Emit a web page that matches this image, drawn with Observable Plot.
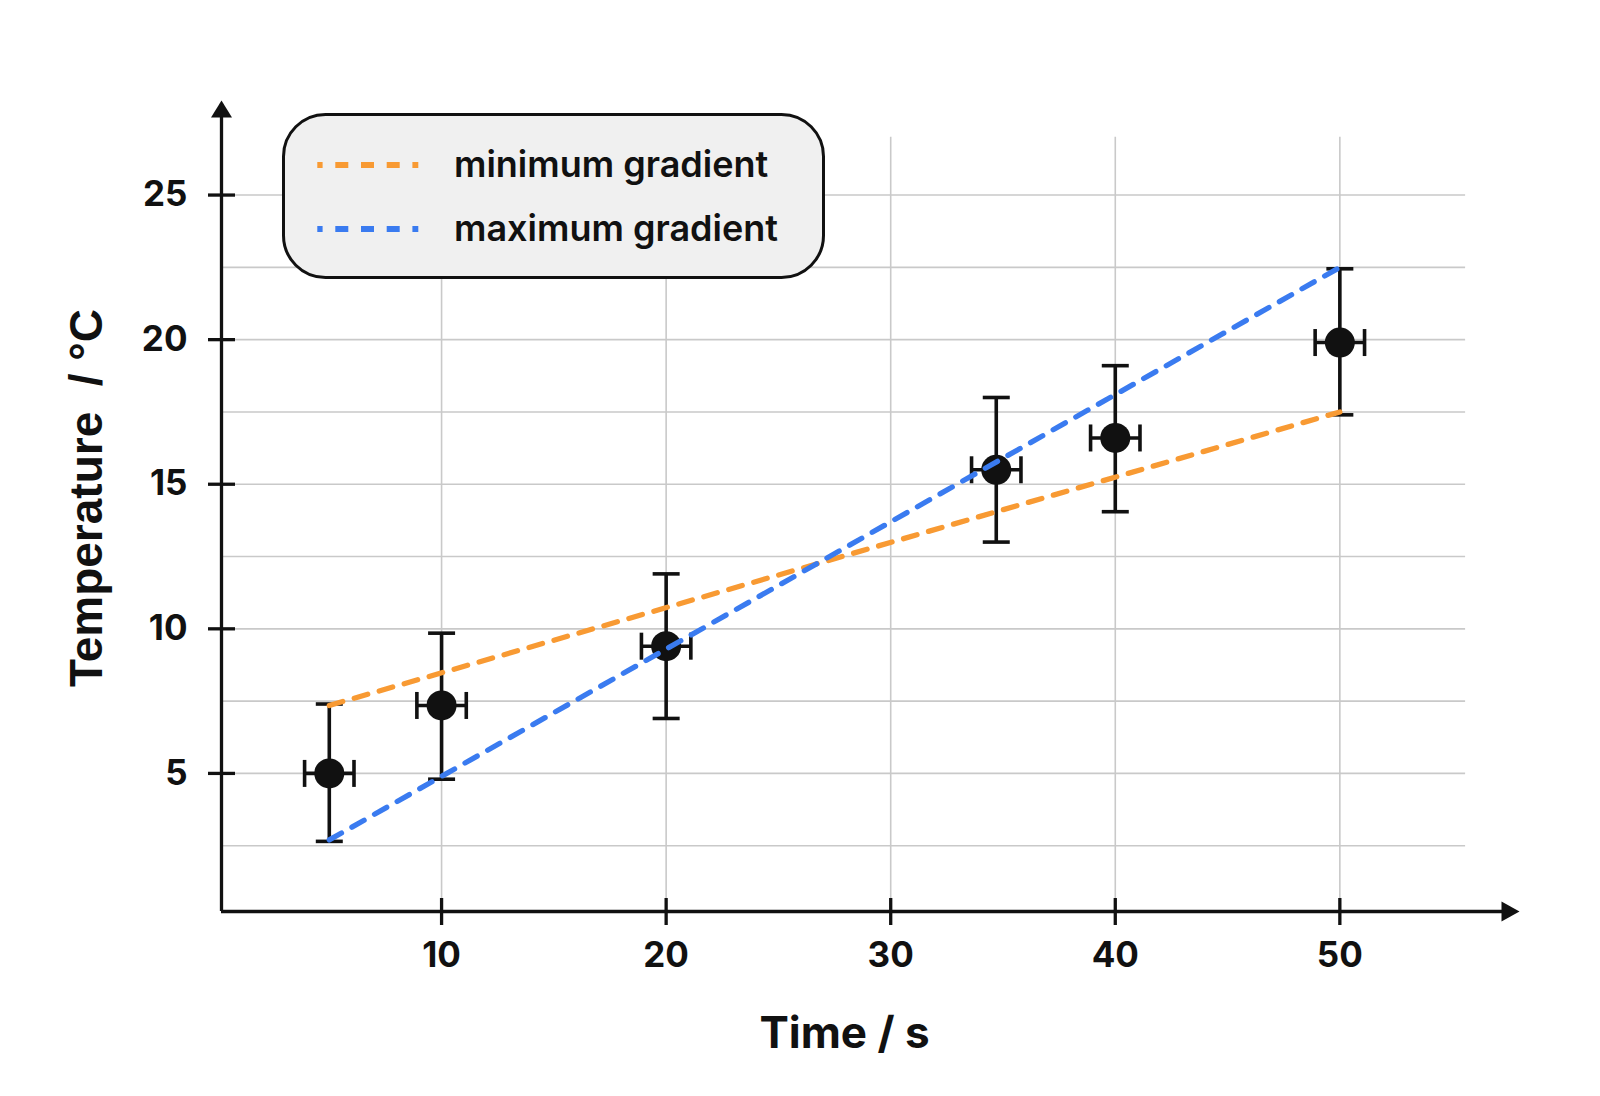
<!DOCTYPE html>
<html>
<head>
<meta charset="utf-8">
<script src="https://cdn.jsdelivr.net/npm/d3@7"></script>
<script src="https://cdn.jsdelivr.net/npm/@observablehq/plot@0.6"></script>
<style>
  html, body { margin: 0; padding: 0; background: #ffffff; }
  #wrap { position: relative; width: 1600px; height: 1096px; }
  #legend { position: absolute; left: 282px; top: 113px; }
</style>
</head>
<body>
<div id="wrap"></div>
<script>
// ---- data ----
const timeS    = [5, 10, 20, 34.7, 40, 50];
const tempC    = [5.0, 7.35, 9.4, 15.5, 16.6, 19.9];
const tempLow  = [2.65, 4.8, 6.9, 13.0, 14.05, 17.4];
const tempHigh = [7.4, 9.85, 11.9, 18.0, 19.1, 22.45];
const timeErr  = [1.1, 1.1, 1.1, 1.1, 1.1, 1.1];

const minGradTime = [5, 50];
const minGradTemp = [7.35, 17.5];
const maxGradTime = [5, 50];
const maxGradTemp = [2.7, 22.5];

const xTickValues = [10, 20, 30, 40, 50];
const yTickValues = [5, 10, 15, 20, 25];
const yGridValues = [2.5, 5, 7.5, 10, 12.5, 15, 17.5, 20, 22.5, 25];
const legendLabels = ["minimum gradient", "maximum gradient"];
const xLabel = "Time / s";
const yLabel = "Temperature  / °C";

// ---- layout / style ----
const xMin = 0.2, xMax = 58, yMin = 0.225, yMax = 28.27;
const gridXEnd = 55.6, gridYEnd = 27;
const orange = "#f89a33", blue = "#3a7bf0", ink = "#111111", gridColor = "#c9c9c9";
const tickFont = "Inter, 'Noto Sans', sans-serif";
const barW = 3.6;

const points = timeS.map((t, i) => ({
  t, v: tempC[i], lo: tempLow[i], hi: tempHigh[i],
  t1: t - timeErr[i], t2: t + timeErr[i]
}));
const minLine = minGradTime.map((t, i) => ({t, v: minGradTemp[i]}));
const maxLine = maxGradTime.map((t, i) => ({t, v: maxGradTemp[i]}));

// custom symbols (pixel-sized caps, ticks and arrow heads)
const hCap = {draw(ctx) { ctx.moveTo(-13.5, 0); ctx.lineTo(13.5, 0); }};
const vCap = {draw(ctx) { ctx.moveTo(0, -13.5); ctx.lineTo(0, 13.5); }};
const arrowRight = {draw(ctx) { ctx.moveTo(0, 0); ctx.lineTo(-18, -10); ctx.lineTo(-18, 10); ctx.closePath(); }};
const arrowUp = {draw(ctx) { ctx.moveTo(0, 0); ctx.lineTo(-10.5, 17); ctx.lineTo(10.5, 17); ctx.closePath(); }};

const chart = Plot.plot({
  width: 1600,
  height: 1096,
  marginLeft: 221,
  marginRight: 81,
  marginTop: 100,
  marginBottom: 185,
  x: {domain: [xMin, xMax], axis: null},
  y: {domain: [yMin, yMax], axis: null},
  style: {background: "#ffffff", overflow: "visible"},
  marks: [
    // grid
    Plot.ruleY(yGridValues, {y: d => d, x1: xMin, x2: gridXEnd, stroke: gridColor, strokeWidth: 1.6}),
    Plot.ruleX(xTickValues, {x: d => d, y1: yMin, y2: gridYEnd, stroke: gridColor, strokeWidth: 1.6}),
    // axes
    Plot.ruleY([yMin], {x1: xMin, x2: xMax - 0.3, stroke: ink, strokeWidth: 3.3}),
    Plot.ruleX([xMin], {y1: yMin, y2: yMax - 0.3, stroke: ink, strokeWidth: 3.3}),
    Plot.dot([0], {x: xMax, y: yMin, symbol: arrowRight, fill: ink, stroke: "none"}),
    Plot.dot([0], {x: xMin, y: yMax, symbol: arrowUp, fill: ink, stroke: "none"}),
    Plot.dot(xTickValues, {x: d => d, y: yMin, symbol: vCap, fill: "none", stroke: ink, strokeWidth: 3.3}),
    Plot.dot(yTickValues, {x: xMin, y: d => d, symbol: hCap, fill: "none", stroke: ink, strokeWidth: 3.3}),
    // tick labels
    Plot.text(xTickValues, {x: d => d, y: yMin, text: d => String(d), dy: 44, textAnchor: "middle", lineAnchor: "middle",
      fontFamily: tickFont, fontSize: 35, fontWeight: 700, fill: ink}),
    Plot.text(yTickValues, {x: xMin, y: d => d, text: d => String(d), dx: -34, textAnchor: "end", lineAnchor: "middle",
      fontFamily: tickFont, fontSize: 35, fontWeight: 700, fill: ink}),
    // axis labels
    Plot.text([xLabel], {frameAnchor: "bottom", text: d => d, dx: -26, dy: 136, textAnchor: "middle", lineAnchor: "bottom",
      fontFamily: tickFont, fontSize: 44, fontWeight: 700, fill: ink}),
    Plot.text([yLabel], {frameAnchor: "left", text: d => d, dx: -120, dy: -8, rotate: -90, textAnchor: "middle", lineAnchor: "bottom",
      fontFamily: "'Liberation Sans', Arial, sans-serif", fontSize: 46, fontWeight: 700, fill: ink}),
    // error bars
    Plot.ruleX(points, {x: "t", y1: "lo", y2: "hi", stroke: ink, strokeWidth: barW}),
    Plot.ruleY(points, {y: "v", x1: "t1", x2: "t2", stroke: ink, strokeWidth: barW}),
    Plot.dot(points, {x: "t", y: "lo", symbol: hCap, fill: "none", stroke: ink, strokeWidth: barW}),
    Plot.dot(points, {x: "t", y: "hi", symbol: hCap, fill: "none", stroke: ink, strokeWidth: barW}),
    Plot.dot(points, {x: "t1", y: "v", symbol: vCap, fill: "none", stroke: ink, strokeWidth: barW}),
    Plot.dot(points, {x: "t2", y: "v", symbol: vCap, fill: "none", stroke: ink, strokeWidth: barW}),
    Plot.dot(points, {x: "t", y: "v", r: 15, fill: ink, stroke: "none"}),
    // gradient lines
    Plot.line(minLine, {x: "t", y: "v", stroke: orange, strokeWidth: 5.3, strokeDasharray: "14,12"}),
    Plot.line(maxLine, {x: "t", y: "v", stroke: blue, strokeWidth: 5.3, strokeDasharray: "14,12"})
  ]
});

const wrap = document.getElementById("wrap");
wrap.appendChild(chart);

// legend (inside the plot area, as in the reference)
const legendColors = [orange, blue];
const lg = d3.select(wrap).append("svg").attr("id", "legend")
  .attr("width", 544).attr("height", 167);
lg.append("rect").attr("x", 1.5).attr("y", 1.5).attr("width", 540).attr("height", 163)
  .attr("rx", 42).attr("ry", 42).attr("fill", "#f0f0f0").attr("stroke", ink).attr("stroke-width", 3);
legendLabels.forEach((label, i) => {
  const cy = 52 + i * 64;
  lg.append("line").attr("x1", 35.3).attr("x2", 136.3).attr("y1", cy).attr("y2", cy)
    .attr("stroke", legendColors[i]).attr("stroke-width", 6)
    .attr("stroke-dasharray", "13,12.7").attr("stroke-dashoffset", 7.7);
  lg.append("text").attr("x", 172).attr("y", cy).attr("dy", "0.32em")
    .attr("font-family", tickFont).attr("font-size", 36).attr("font-weight", 600)
    .attr("fill", ink).text(label);
});
</script>
</body>
</html>
